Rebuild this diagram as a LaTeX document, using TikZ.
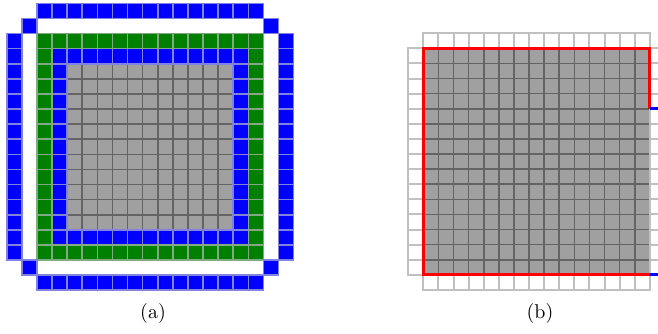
\documentclass[tikz,border=0pt]{standalone}
\usepackage{xcolor}
\usepackage{tikz}
\definecolor{cellblue}{RGB}{0,0,255}
\definecolor{cellgreen}{RGB}{0,128,0}
\definecolor{cellgray}{RGB}{160,160,160}
\definecolor{blueedge}{RGB}{130,130,225}
\definecolor{greenedge}{RGB}{130,170,130}
\definecolor{grayedge}{RGB}{100,100,100}
\definecolor{ghostedge}{RGB}{192,192,192}
\tikzstyle{bluecell} = [fill=cellblue, draw=blueedge, line width=0.8pt]
\tikzstyle{greencell} = [fill=cellgreen, draw=greenedge, line width=0.8pt]
\tikzstyle{graycell} = [fill=cellgray, draw=grayedge, line width=0.8pt]
\tikzstyle{ghostcell} = [fill=white, draw=ghostedge, line width=1pt]
\tikzstyle{redline} = [draw=red, line width=1.5pt]
\tikzstyle{blueline} = [draw=cellblue, line width=1.5pt]

\begin{document}
\begin{tikzpicture}[x=0.5pt, y=-0.5pt]
\useasboundingbox (0,0) rectangle (658,333);

% (a) full grid with rings
\begin{scope}[shift={(6.7,3.3)}, x=7.55pt, y=-7.55pt]
% Gray interior
\foreach \i in {4,...,14}
  \foreach \j in {4,...,14}
    \draw[graycell] (\i,\j) rectangle ++(1,1);
% Inner blue ring
\foreach \i in {3,...,15} {
  \draw[bluecell] (\i,3) rectangle ++(1,1);
  \draw[bluecell] (\i,15) rectangle ++(1,1);
  \draw[bluecell] (3,\i) rectangle ++(1,1);
  \draw[bluecell] (15,\i) rectangle ++(1,1);
}
% Green ring
\foreach \i in {2,...,16} {
  \draw[greencell] (\i,2) rectangle ++(1,1);
  \draw[greencell] (\i,16) rectangle ++(1,1);
  \draw[greencell] (2,\i) rectangle ++(1,1);
  \draw[greencell] (16,\i) rectangle ++(1,1);
}
% Outer blue ring
\foreach \i in {2,...,16} {
  \draw[bluecell] (\i,0) rectangle ++(1,1);
  \draw[bluecell] (\i,18) rectangle ++(1,1);
  \draw[bluecell] (0,\i) rectangle ++(1,1);
  \draw[bluecell] (18,\i) rectangle ++(1,1);
}
% Corners
\foreach \i/\j in {1/1, 17/1, 1/17, 17/17}
  \draw[bluecell] (\i,\j) rectangle ++(1,1);
\end{scope}

% (b) block with ghost layer
\begin{scope}
\clip (380,0) rectangle (658,333);
\begin{scope}[shift={(423.3,48.3)}, x=7.55pt, y=-7.55pt]
% Gray block
\foreach \i in {0,...,14}
  \foreach \j in {0,...,14}
    \draw[graycell] (\i,\j) rectangle ++(1,1);
% Ghost cells
\foreach \i in {0,...,14} {
  \draw[ghostcell] (\i,-1) rectangle ++(1,1);
  \draw[ghostcell] (\i,15) rectangle ++(1,1);
  \draw[ghostcell] (-1,\i) rectangle ++(1,1);
  \draw[ghostcell] (15,\i) rectangle ++(1,1);
}
% Borders
\draw[redline] (15,4) -- (15,0) -- (0,0) -- (0,15) -- (15,15);
\draw[blueline] (15,4) -- (16.5,4);
\draw[blueline] (15,15) -- (16.5,15);
\end{scope}
\end{scope}

% Captions
\node (capa) [anchor=base] at (153,318) {(a)};
\node (capb) [anchor=base] at (540,318) {(b)};

\end{tikzpicture}
\end{document}
